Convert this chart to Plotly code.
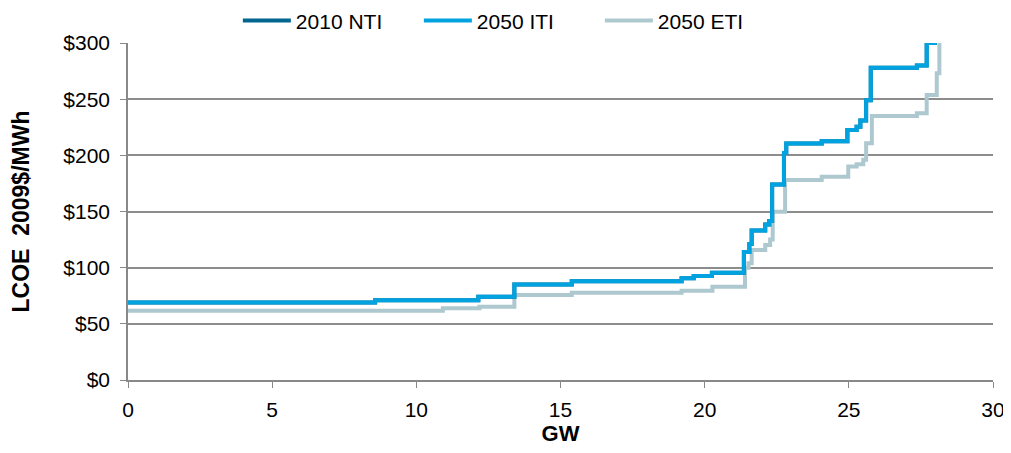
import plotly.graph_objects as go

# supply curves: cumulative GW (start of each step) and LCOE in 2009$/MWh
iti_gw = [0, 8.57, 12.15, 13.4, 15.39, 19.2, 19.62, 20.25, 21.36, 21.55, 21.63,
          22.1, 22.24, 22.34, 22.75, 22.83, 24.06, 24.95, 25.27, 25.4, 25.6,
          25.76, 27.36, 27.7, 28.05]
iti_lcoe = [69, 71, 74, 85, 88, 90.5, 92.5, 95.5, 114, 121, 133,
            138.5, 141.5, 174, 202, 210.5, 212.5, 222.5, 225.5, 231, 249,
            278, 280, 300, 300]

# 2010 NTI sits underneath the 2050 ITI curve (same values)
nti_gw = list(iti_gw)
nti_lcoe = list(iti_lcoe)

eti_gw = [0, 10.92, 12.19, 13.4, 15.39, 19.2, 20.27, 21.4, 21.52, 21.63,
          22.1, 22.27, 22.36, 22.79, 24.06, 24.98, 25.27, 25.5, 25.6, 25.8,
          27.36, 27.7, 28.05, 28.14, 28.15]
eti_lcoe = [61.7, 63.8, 65.3, 75.7, 77.7, 79.5, 83.1, 100, 104, 115.7,
            120.2, 125, 149.8, 178, 181, 190, 192, 196, 210.7, 235,
            237.4, 253.7, 273, 300, 300]

series = [
    ("2050 ETI", eti_gw, eti_lcoe, "#adc8cf", 3),
    ("2010 NTI", nti_gw, nti_lcoe, "#00668f", 1),
    ("2050 ITI", iti_gw, iti_lcoe, "#00a3e0", 2),
]

fig = go.Figure()
for name, x, y, color, rank in series:
    fig.add_trace(go.Scatter(
        x=x, y=y, name=name, mode="lines", legendrank=rank,
        line=dict(color=color, width=4, shape="hv"),
    ))

# page body adds an 8px offset, so the figure is 8px smaller than the window
fig.update_layout(
    width=1003, height=445,
    margin=dict(l=120, r=18, t=35, b=73, autoexpand=False),
    paper_bgcolor="white", plot_bgcolor="white",
    font=dict(family="Liberation Sans, Arial", size=21, color="black"),
    legend=dict(orientation="h", x=0.127, xanchor="left", y=1.066, yanchor="middle",
                font=dict(size=21), itemwidth=48, entrywidth=118),
    showlegend=True,
)
fig.update_xaxes(
    range=[0, 30], dtick=5, showgrid=False,
    showline=True, linecolor="#888888", linewidth=1.5,
    ticks="outside", ticklen=6, tickcolor="#888888",
    ticklabelstandoff=4,
    title=dict(text="<b>GW</b>", standoff=4, font=dict(size=22)),
    zeroline=False,
)
fig.update_yaxes(
    range=[0, 300], dtick=50, tickprefix="$",
    showgrid=True, gridcolor="#8c8c8c", gridwidth=1.5,
    showline=True, linecolor="#888888", linewidth=1.5,
    ticks="outside", ticklen=6, tickcolor="#888888",
    ticklabelstandoff=6,
    title=dict(text="<b>LCOE  2009$/MWh</b>", standoff=30, font=dict(size=23)),
    zeroline=False,
)

fig.write_html("out.html")
